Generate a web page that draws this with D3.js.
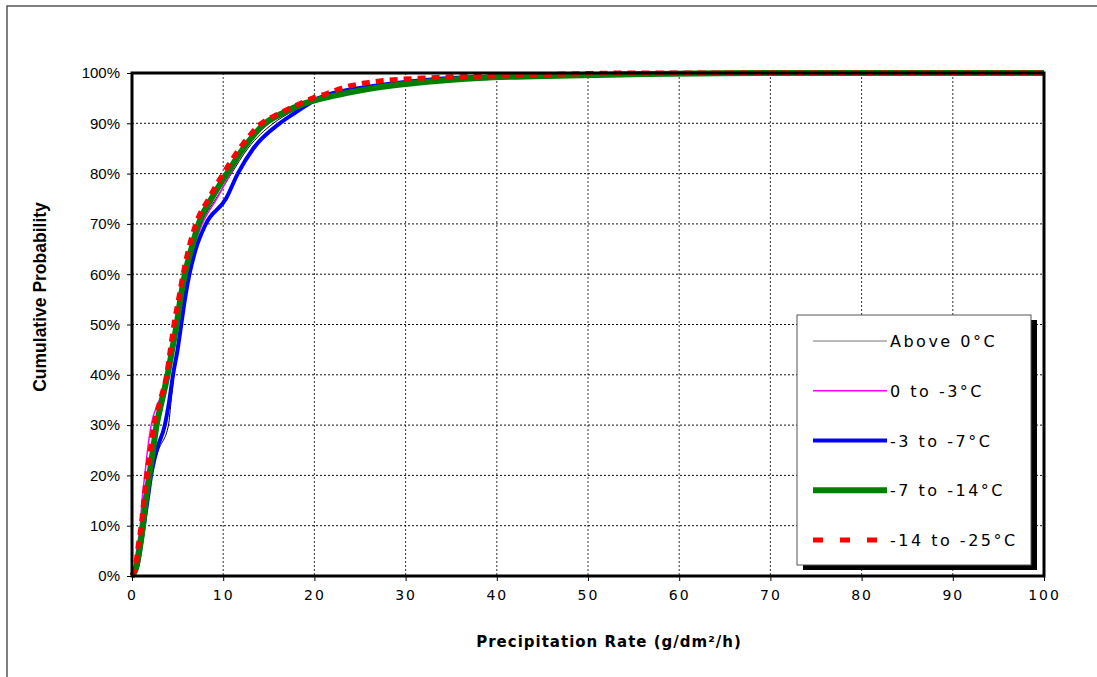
<!DOCTYPE html>
<html>
<head>
<meta charset="utf-8">
<script src="https://cdn.jsdelivr.net/npm/d3@7"></script>
<style>
  body { margin: 0; background: #fff; }
  svg { display: block; }
</style>
</head>
<body>
<div id="chart"></div>
<script>
// Cumulative probability levels (%) and the rate (g/dm²/h) where each series reaches them
const probLevels = [0, 2, 5, 10, 15, 20, 25, 30, 35, 40, 45, 50, 55, 60, 65, 70, 75, 80, 85, 90, 92, 94, 95, 96, 97, 98, 99, 99.5, 100];

const rateAbove0   = [0, 0.6, 0.9, 1.3, 1.7, 2.1, 2.9, 4.0, 4.3, 4.6, 4.9, 5.3, 5.6, 6.0, 6.7, 7.6, 9.2, 10.9, 12.7, 15.5, 17.2, 19.2, 20.3, 22, 25, 29, 35, 45, 60];
const rate0to3     = [0, 0.3, 0.5, 0.9, 1.1, 1.4, 1.7, 2.1, 3.0, 3.9, 4.5, 5.0, 5.4, 5.9, 6.7, 7.7, 9.3, 10.8, 12.4, 15.0, 16.8, 18.8, 20.0, 21.8, 24.5, 28.5, 34, 44, 58];
const rate3to7     = [0, 0.6, 0.9, 1.3, 1.7, 2.1, 2.7, 3.6, 4.1, 4.5, 5.0, 5.4, 5.8, 6.3, 7.0, 8.1, 10.3, 11.6, 13.3, 16.2, 17.8, 19.5, 20.5, 22, 25, 29, 35, 45, 60];
const rate7to14    = [0, 0.5, 0.8, 1.2, 1.5, 1.9, 2.3, 2.7, 3.3, 3.9, 4.4, 4.9, 5.3, 5.8, 6.5, 7.3, 8.7, 10.4, 12.2, 14.6, 16.5, 19, 21, 23.5, 26.5, 31, 38, 48, 70];
const rate14to25   = [0, 0.4, 0.6, 1.0, 1.3, 1.6, 2.0, 2.4, 3.1, 3.8, 4.2, 4.6, 5.1, 5.6, 6.2, 7.0, 8.4, 10.0, 11.8, 14.2, 16.2, 18.5, 19.8, 21.5, 23, 25.5, 32, 42, 55];

const seriesNames = ["Above 0°C", "0 to -3°C", "-3 to -7°C", "-7 to -14°C", "-14 to -25°C"];
const seriesRates = [rateAbove0, rate0to3, rate3to7, rate7to14, rate14to25];

const xTicks = [0, 10, 20, 30, 40, 50, 60, 70, 80, 90, 100];
const yTicks = [0, 10, 20, 30, 40, 50, 60, 70, 80, 90, 100];

// styles per series
const seriesStyle = [
  { color: "#000000", width: 1,   dash: null,   legendColor: "#777777" },
  { color: "#ff00ff", width: 1.5, dash: null,   legendColor: "#ff00ff" },
  { color: "#0000ff", width: 4,   dash: null,   legendColor: "#0000ff" },
  { color: "#008000", width: 6,   dash: null,   legendColor: "#008000" },
  { color: "#ff0000", width: 5,   dash: "8,6",  legendColor: "#ff0000" }
];

const width = 1097, height = 677;
const plot = { left: 132, right: 1044, top: 73, bottom: 576 };

const svg = d3.select("#chart").append("svg")
    .attr("width", width)
    .attr("height", height);

// outer frame (runs off the right and bottom edges)
svg.append("rect")
    .attr("x", 7).attr("y", 6)
    .attr("width", width + 10).attr("height", height + 10)
    .attr("fill", "none")
    .attr("stroke", "#555")
    .attr("stroke-width", 1.5);

const x = d3.scaleLinear().domain([0, 100]).range([plot.left, plot.right]);
const y = d3.scaleLinear().domain([0, 100]).range([plot.bottom, plot.top]);

// gridlines
svg.append("g")
    .selectAll("line")
    .data(xTicks.slice(1, -1))
    .enter().append("line")
    .attr("x1", d => x(d)).attr("x2", d => x(d))
    .attr("y1", plot.top).attr("y2", plot.bottom)
    .attr("stroke", "#333").attr("stroke-width", 1)
    .attr("stroke-dasharray", "2,2");

svg.append("g")
    .selectAll("line")
    .data(yTicks.slice(1, -1))
    .enter().append("line")
    .attr("x1", plot.left).attr("x2", plot.right)
    .attr("y1", d => y(d)).attr("y2", d => y(d))
    .attr("stroke", "#111").attr("stroke-width", 1)
    .attr("stroke-dasharray", "2,2");

// axes
const xAxis = svg.append("g")
    .attr("transform", "translate(0," + plot.bottom + ")")
    .call(d3.axisBottom(x).tickValues(xTicks).tickSize(5).tickPadding(9));
xAxis.select(".domain").remove();
xAxis.selectAll("text")
    .style("font-family", "'DejaVu Sans', Verdana, sans-serif")
    .style("font-size", "14px")
    .style("letter-spacing", "2px")
    .attr("fill", "#000");

const yAxis = svg.append("g")
    .attr("transform", "translate(" + plot.left + ",0)")
    .call(d3.axisLeft(y).tickValues(yTicks).tickSize(5).tickPadding(7).tickFormat(d => d + "%"));
yAxis.select(".domain").remove();
yAxis.selectAll("text")
    .style("font-family", "'Liberation Sans', Arial, sans-serif")
    .style("font-size", "15px")
    .attr("fill", "#000");

// curves
const line = d3.line()
    .x(d => x(d[0]))
    .y(d => y(d[1]))
    .curve(d3.curveMonotoneX);

seriesRates.forEach((rates, i) => {
  const pts = rates.map((r, j) => [r, probLevels[j]]);
  pts.push([100, 100]);
  const st = seriesStyle[i];
  svg.append("path")
      .datum(pts)
      .attr("d", line)
      .attr("fill", "none")
      .attr("stroke", st.color)
      .attr("stroke-width", st.width)
      .attr("stroke-dasharray", st.dash)
      .attr("stroke-linejoin", "round");
});

// plot frame
svg.append("rect")
    .attr("x", plot.left).attr("y", plot.top)
    .attr("width", plot.right - plot.left).attr("height", plot.bottom - plot.top)
    .attr("fill", "none")
    .attr("stroke", "#000")
    .attr("stroke-width", 3);

// axis titles
svg.append("text")
    .attr("x", 609).attr("y", 647)
    .attr("text-anchor", "middle")
    .style("font-family", "'DejaVu Sans', Verdana, sans-serif")
    .style("font-weight", "bold")
    .style("font-size", "15px")
    .style("letter-spacing", "1px")
    .text("Precipitation Rate (g/dm²/h)");

svg.append("text")
    .attr("transform", "translate(46,297) rotate(-90)")
    .attr("text-anchor", "middle")
    .style("font-family", "'Liberation Sans', Arial, sans-serif")
    .style("font-weight", "bold")
    .style("font-size", "17.5px")
    .text("Cumulative Probability");

// legend
const legend = { x: 797, y: 315, w: 234, h: 250 };
svg.append("rect")
    .attr("x", legend.x + 6).attr("y", legend.y + 5)
    .attr("width", legend.w).attr("height", legend.h)
    .attr("fill", "#000");
svg.append("rect")
    .attr("x", legend.x).attr("y", legend.y)
    .attr("width", legend.w).attr("height", legend.h)
    .attr("fill", "#fff")
    .attr("stroke", "#555").attr("stroke-width", 1);

const rowY = d3.scalePoint().domain(seriesNames).range([341, 540]);

const rows = svg.append("g").selectAll("g")
    .data(seriesNames)
    .enter().append("g")
    .attr("transform", d => "translate(0," + rowY(d) + ")");

rows.append("line")
    .attr("x1", 813).attr("x2", 887)
    .attr("stroke", (d, i) => seriesStyle[i].legendColor)
    .attr("stroke-width", (d, i) => seriesStyle[i].width)
    .attr("stroke-dasharray", (d, i) => seriesStyle[i].dash ? "10,17" : null);

rows.append("text")
    .attr("x", 890).attr("y", 6)
    .style("font-family", "'DejaVu Sans', Verdana, sans-serif")
    .style("font-size", "16px")
    .style("letter-spacing", "2.5px")
    .text(d => d);
</script>
</body>
</html>
